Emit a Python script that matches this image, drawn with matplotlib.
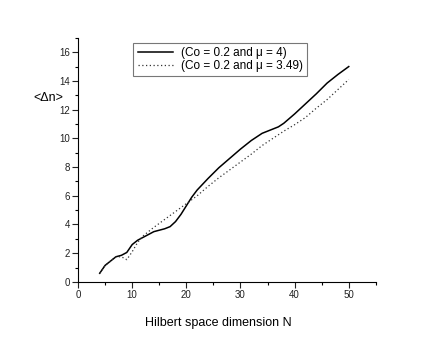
import matplotlib
matplotlib.use("Agg")
import matplotlib.pyplot as plt
from matplotlib.ticker import MultipleLocator

plt.rcParams['font.family'] = ['Liberation Sans', 'DejaVu Sans']

# solid curve (Co = 0.2, mu = 4)
N_solid = [4, 5, 6, 7, 8, 9, 10, 11, 12, 13, 14, 15, 16, 17, 18, 19, 20, 21, 22,
           24, 26, 28, 30, 32, 34, 36, 37, 38, 40, 42, 44, 46, 48, 50]
dn_solid = [0.6, 1.15, 1.45, 1.75, 1.85, 2.05, 2.6, 2.9, 3.1, 3.3, 3.5, 3.6, 3.7, 3.85, 4.2, 4.7, 5.3, 5.9, 6.4,
            7.2, 7.95, 8.6, 9.25, 9.85, 10.35, 10.65, 10.8, 11.05, 11.7, 12.4, 13.1, 13.85, 14.45, 15.0]

# dotted curve (Co = 0.2, mu = 3.49)
N_dot = [4, 5, 6, 7, 8, 9, 10, 11, 12, 14, 16, 18, 20, 22, 24, 26, 28, 30,
         32, 34, 36, 38, 40, 42, 44, 46, 48, 50]
dn_dot = [0.6, 1.15, 1.45, 1.75, 1.75, 1.55, 2.1, 2.75, 3.2, 3.8, 4.35, 4.9, 5.45, 6.0, 6.65, 7.25, 7.8, 8.35,
          8.9, 9.5, 10.0, 10.5, 10.95, 11.45, 12.1, 12.7, 13.4, 14.1]

labels = ["(Co = 0.2 and \u03bc = 4)", "(Co = 0.2 and \u03bc = 3.49)"]

fig = plt.figure(figsize=(4.36, 3.38), dpi=100)
ax = fig.add_axes([0.179, 0.166, 0.683, 0.722])

ax.plot(N_solid, dn_solid, color="black", lw=1.1, label=labels[0])
ax.plot(N_dot, dn_dot, color="#333333", lw=0.9, ls=(0, (1, 2)), label=labels[1])

ax.set_xlim(0, 55)
ax.set_ylim(0, 17)
ax.xaxis.set_major_locator(MultipleLocator(10))
ax.xaxis.set_minor_locator(MultipleLocator(5))
ax.yaxis.set_major_locator(MultipleLocator(2))
ax.yaxis.set_minor_locator(MultipleLocator(1))
ax.set_xticks([0, 10, 20, 30, 40, 50])
ax.spines['top'].set_visible(False)
ax.spines['right'].set_visible(False)
ax.tick_params(which='major', direction='out', length=4, width=0.8, labelsize=7, pad=2, colors='#222222')
ax.tick_params(which='minor', direction='out', length=2.5, width=0.8)

leg = ax.legend(loc='upper left', bbox_to_anchor=(0.178, 0.99), fontsize=8.5, frameon=True,
                fancybox=False, edgecolor='#555555', handlelength=3.0, borderpad=0.35,
                labelspacing=0.1, handletextpad=0.7, borderaxespad=0.2)
leg.get_frame().set_linewidth(0.8)

fig.text(0.11, 0.71, "<\u0394n>", fontsize=9, ha='center', va='center')
fig.text(0.5, 0.045, "Hilbert space dimension N", fontsize=9, ha='center', va='center')

fig.savefig("out.png", dpi=100)
